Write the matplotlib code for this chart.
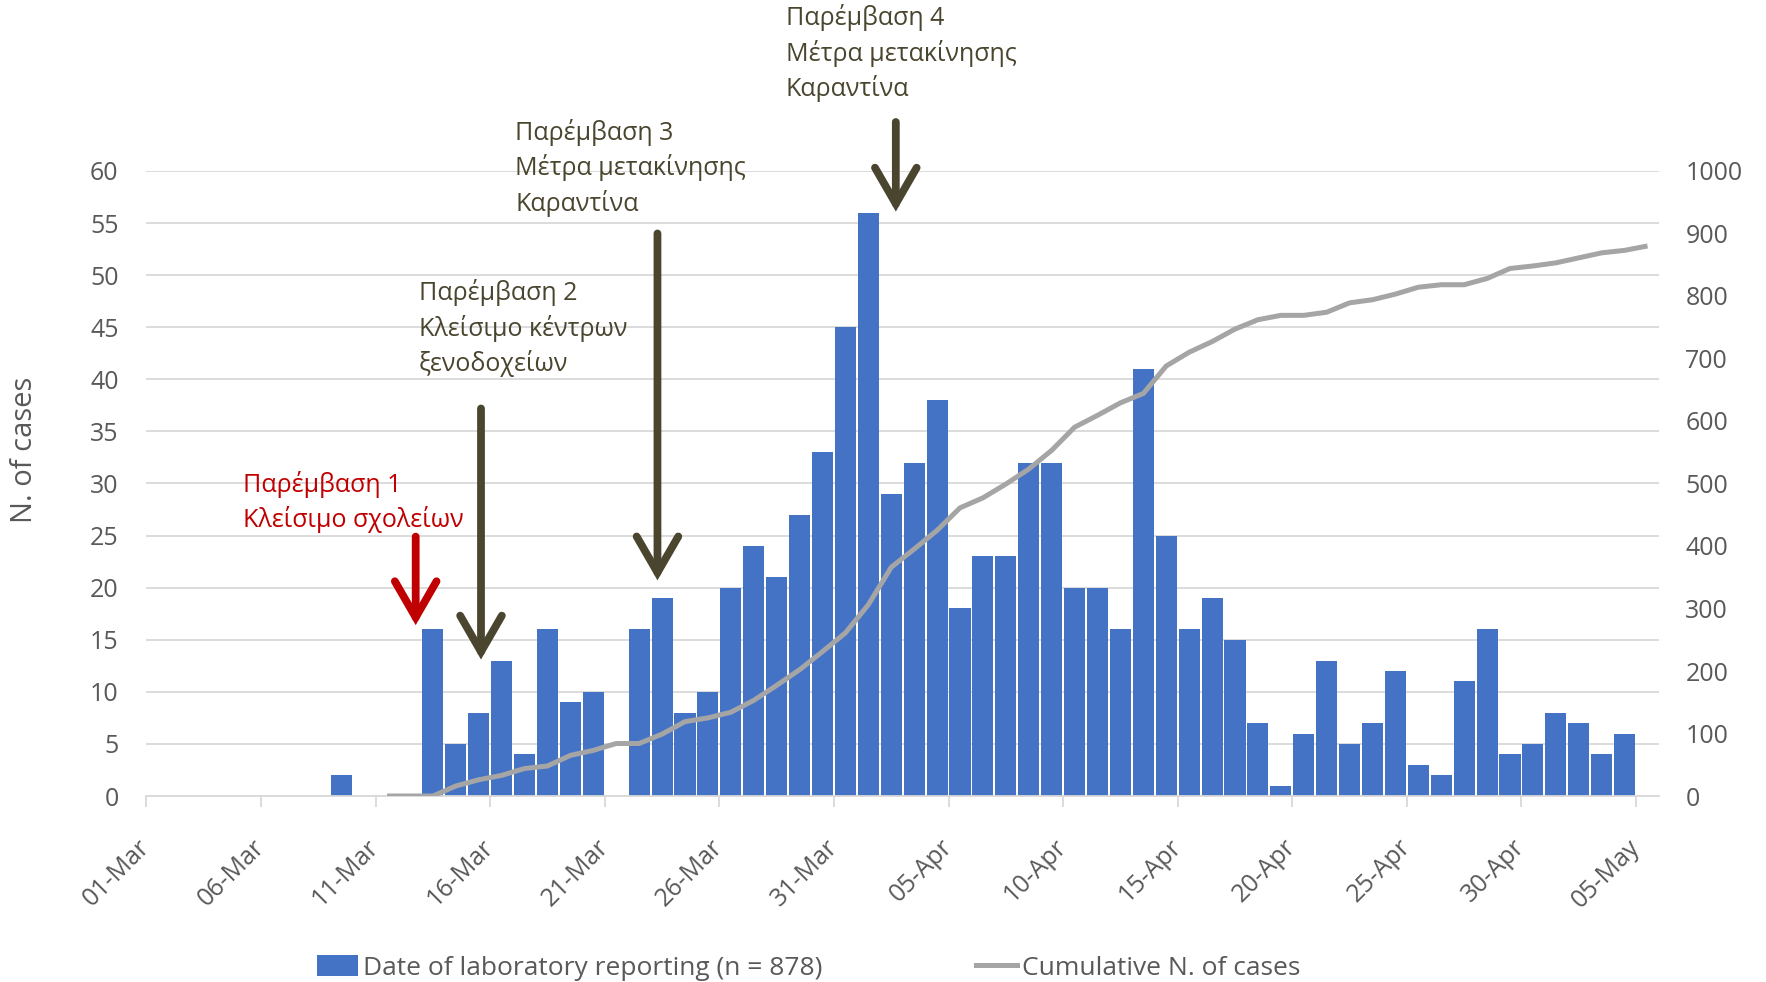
import numpy as np
import pandas as pd
import matplotlib
matplotlib.use('Agg')
import matplotlib.pyplot as plt
from matplotlib.patches import Patch
from matplotlib.lines import Line2D

plt.rcParams['font.family'] = ['Open Sans', 'DejaVu Sans']

# daily lab reports, 01-Mar .. 05-May
dates = pd.date_range('2020-03-01', periods=66)
daily = [0, 0, 0, 0, 0, 0, 0, 0, 2, 0,
         0, 0, 16, 5, 8, 13, 4, 16, 9, 10,
         0, 16, 19, 8, 10, 20, 24, 21, 27, 33,
         45, 56, 29, 32, 38, 18, 23, 23, 32, 32,
         20, 20, 16, 41, 25, 16, 19, 15, 7, 1,
         6, 13, 5, 7, 12, 3, 2, 11, 16, 4,
         5, 8, 7, 4, 6, 0]
# cumulative starts on 11-Mar
cum_start = 10
cumulative = [0, 0, 0, 16, 26, 33, 44, 48, 65, 73,
              84, 84, 99, 119, 125, 134, 153, 177, 202, 231,
              261, 306, 366, 395, 425, 461, 477, 499, 523, 553,
              590, 609, 629, 644, 688, 710, 727, 747, 762, 769,
              769, 774, 789, 794, 803, 814, 818, 818, 828, 844,
              848, 853, 861, 869, 873, 880]

# interventions: (label, category position, arrow top, arrow tip, text x, text y, colour)
notes = [
    ('Παρέμβαση 1\nΚλείσιμο σχολείων', 11.25, 24.9, 16.4, 3.7, 28.2, '#C00000'),
    ('Παρέμβαση 2\nΚλείσιμο κέντρων\nξενοδοχείων', 14.1, 37.2, 13.1, 11.4, 44.9, '#4A452E'),
    ('Παρέμβαση 3\nΜέτρα μετακίνησης\nΚαραντίνα', 21.8, 54.0, 20.7, 15.6, 60.3, '#4A452E'),
    ('Παρέμβαση 4\nΜέτρα μετακίνησης\nΚαραντίνα', 32.2, 64.7, 56.1, 27.4, 71.3, '#4A452E'),
]

bar_col = '#4472C4'
line_col = '#A5A5A5'
grid_col = '#D9D9D9'
txt_col = '#595959'

fig = plt.figure(figsize=(17.66, 9.82), dpi=100)
ax = fig.add_axes([0.0829, 0.1894, 0.8565, 0.6365])
x = np.arange(len(daily))
ax.bar(x, daily, width=0.92, color=bar_col, zorder=2)
ax.set_xlim(-0.5, len(daily) - 0.5)
ax.set_ylim(0, 60)
ax.set_yticks(np.arange(0, 61, 5))
ax.yaxis.grid(True, color=grid_col, lw=1.3, zorder=0)
ax.set_axisbelow(True)
for s in ['top', 'right', 'left']:
    ax.spines[s].set_visible(False)
ax.spines['bottom'].set_color(grid_col)
ax.spines['bottom'].set_linewidth(1.3)
ax.tick_params(axis='y', length=0, pad=20, labelsize=18, labelcolor=txt_col)

tick_idx = np.arange(0, len(daily), 5)
ax.set_xticks(tick_idx - 0.5)
ax.set_xticklabels([dates[i].strftime('%d-%b') for i in tick_idx], rotation=45,
                   ha='right', va='center', rotation_mode='anchor')
ax.tick_params(axis='x', length=8, width=1.3, color=grid_col, pad=26,
               labelsize=18, labelcolor=txt_col)

ax2 = ax.twinx()
ax2.plot(np.arange(cum_start, cum_start + len(cumulative)), cumulative,
         color=line_col, lw=3.6, solid_capstyle='butt', zorder=3)
ax2.set_ylim(0, 1000)
ax2.set_yticks(np.arange(0, 1001, 100))
for s in ax2.spines.values():
    s.set_visible(False)
ax2.tick_params(axis='y', length=0, pad=19, labelsize=18, labelcolor=txt_col)

for label, xa, top, tip, tx, ty, c in notes:
    ax2.annotate('', xy=(xa, tip), xycoords=ax.transData,
                 xytext=(xa, top), textcoords=ax.transData,
                 arrowprops=dict(arrowstyle='->,head_length=1.3,head_width=0.75',
                                 lw=5.6, color=c, shrinkA=0, shrinkB=0,
                                 mutation_scale=20, capstyle='round',
                                 joinstyle='miter'),
                 annotation_clip=False)
    ax2.text(tx, ty, label, transform=ax.transData, color=c, fontsize=18,
             ha='left', va='center', linespacing=1.4, clip_on=False)

fig.text(25 / 1766, 0.542, 'N. of cases', rotation=90, ha='center', va='center',
         fontsize=21, color=txt_col)

handles = [Patch(facecolor=bar_col, edgecolor='none'),
           Line2D([], [], color=line_col, lw=3.6)]
fig.legend(handles, ['Date of laboratory reporting (n = 878)', 'Cumulative N. of cases'],
           loc='center', bbox_to_anchor=(0.458, 0.014), ncol=2, frameon=False,
           fontsize=19, labelcolor=txt_col, columnspacing=5.8, handlelength=1.55,
           handleheight=0.85, handletextpad=0.2)

fig.savefig('out.png', dpi=100)
